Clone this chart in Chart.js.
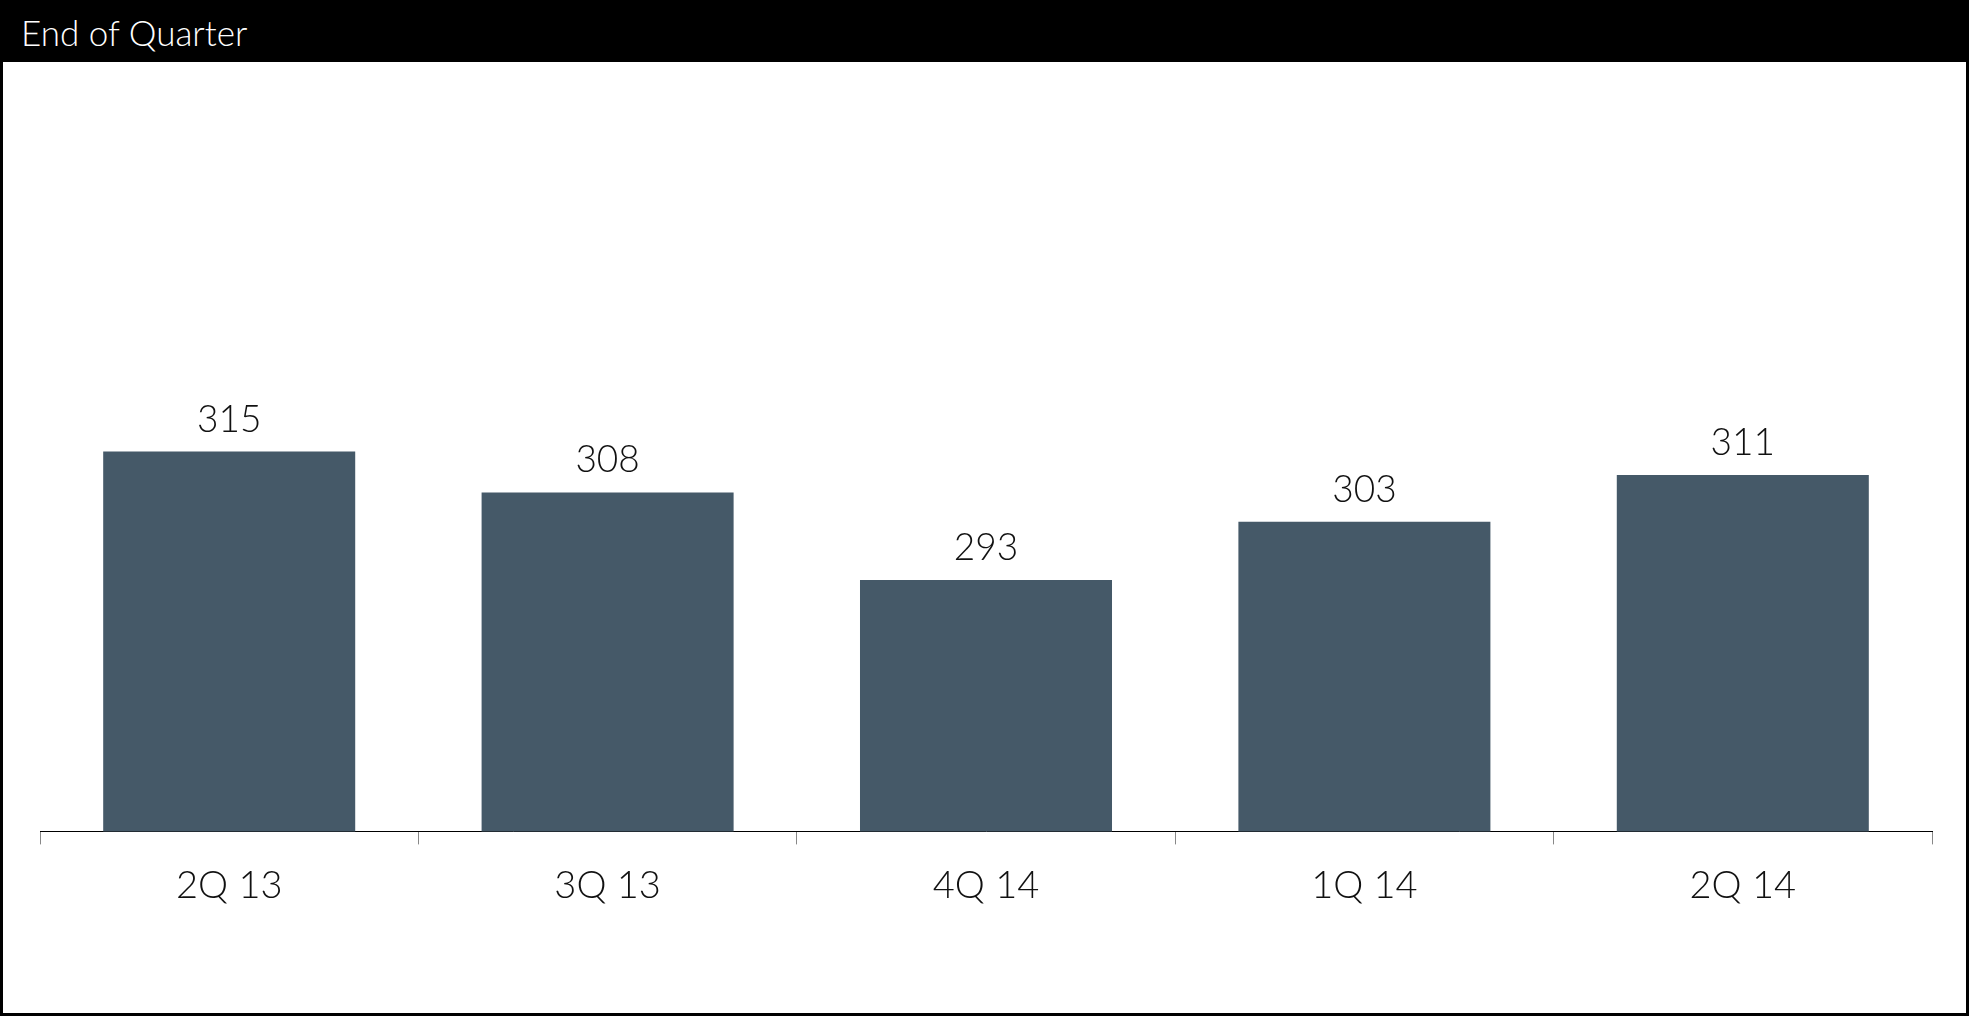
<!DOCTYPE html>
<html>
<head>
<meta charset="utf-8">
<script src="https://cdn.jsdelivr.net/npm/chart.js@4.4.1/dist/chart.umd.min.js"></script>
<style>
  html, body { margin: 0; padding: 0; background: #fff; }
  #frame { position: relative; width: 1969px; height: 1016px; background: #000; overflow: hidden; }
  #title {
    position: absolute; left: 21px; top: 2px; height: 60px; line-height: 60px;
    color: #fff; font-family: Lato, "Open Sans", sans-serif; font-weight: 300; font-size: 35px;
  }
  #panel { position: absolute; left: 3px; top: 62px; width: 1963px; height: 951px; background: #fff; }
  canvas { display: block; }
</style>
</head>
<body>
<div id="frame">
  <div id="title">End of Quarter</div>
  <div id="panel"><canvas id="barChart" width="1963" height="951"></canvas></div>
</div>
<script>
  // chart data
  var quarters = ['2Q 13', '3Q 13', '4Q 14', '1Q 14', '2Q 14'];
  var values = [315, 308, 293, 303, 311];
  var yMin = 250;
  var yMax = 350;

  var labelFont = '300 37px Lato, "Open Sans", sans-serif';

  // draws the value above each bar
  var valueLabels = {
    id: 'valueLabels',
    afterDatasetsDraw: function(chart) {
      var ctx = chart.ctx;
      var meta = chart.getDatasetMeta(0);
      ctx.save();
      ctx.font = labelFont;
      ctx.fillStyle = '#111';
      ctx.textAlign = 'center';
      ctx.textBaseline = 'alphabetic';
      meta.data.forEach(function(bar, i) {
        ctx.fillText(values[i], bar.x, bar.y - 20);
      });
      ctx.restore();
    }
  };

  document.addEventListener('DOMContentLoaded', function() {
    var canvas = document.getElementById('barChart');

    new Chart(canvas, {
      type: 'bar',
      data: {
        labels: quarters,
        datasets: [{
          data: values,
          backgroundColor: '#455968',
          borderWidth: 0,
          categoryPercentage: 1,
          barPercentage: 0.666
        }]
      },
      options: {
        responsive: false,
        animation: false,
        layout: { padding: { top: 185, left: 37, right: 34, bottom: 85 } },
        plugins: { legend: { display: false }, tooltip: { enabled: false } },
        scales: {
          y: { display: false, min: yMin, max: yMax },
          x: {
            offset: true,
            grid: { offset: true, drawOnChartArea: false, drawTicks: true, tickLength: 13, color: '#888' },
            border: { display: true, color: '#000', width: 1 },
            ticks: { color: '#111', font: { family: 'Lato, "Open Sans", sans-serif', size: 38, weight: '300' }, padding: 19 }
          }
        }
      },
      plugins: [valueLabels]
    });
  });
</script>
</body>
</html>
